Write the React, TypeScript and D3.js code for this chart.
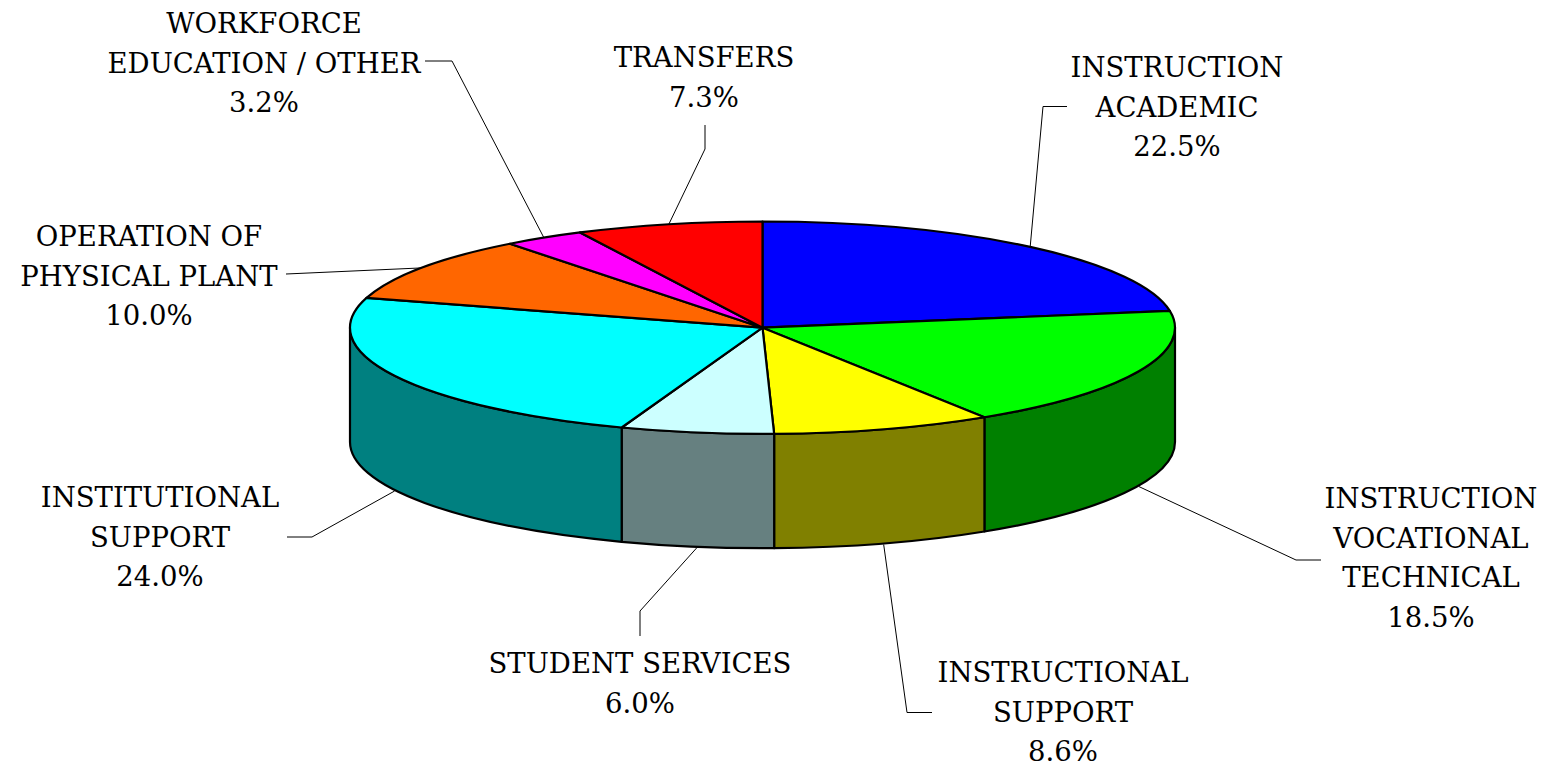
import React, { useEffect } from 'react';
import * as d3 from 'd3';

// slices, clockwise from 12 o'clock
const categories = [
  'INSTRUCTION ACADEMIC',
  'INSTRUCTION VOCATIONAL TECHNICAL',
  'INSTRUCTIONAL SUPPORT',
  'STUDENT SERVICES',
  'INSTITUTIONAL SUPPORT',
  'OPERATION OF PHYSICAL PLANT',
  'WORKFORCE EDUCATION / OTHER',
  'TRANSFERS',
];
const labelLines = [
  ['INSTRUCTION', 'ACADEMIC'],
  ['INSTRUCTION', 'VOCATIONAL', 'TECHNICAL'],
  ['INSTRUCTIONAL', 'SUPPORT'],
  ['STUDENT SERVICES'],
  ['INSTITUTIONAL', 'SUPPORT'],
  ['OPERATION OF', 'PHYSICAL PLANT'],
  ['WORKFORCE', 'EDUCATION / OTHER'],
  ['TRANSFERS'],
];
const shares = [22.5, 18.5, 8.6, 6.0, 24.0, 10.0, 3.2, 7.3];
const topColors = ['#0000ff', '#00ff00', '#ffff00', '#ccffff', '#00ffff', '#ff6600', '#ff00ff', '#ff0000'];
const sideColors = ['#000080', '#008000', '#808000', '#668080', '#008080', '#993300', '#800080', '#800000'];

// label placement: text centre x, first baseline y, leader start and elbow
const labelLayout = [
  { x: 1177, y: 77, start: [1067, 106.5], elbow: [1043, 106.5] },
  { x: 1431, y: 508, start: [1321, 560], elbow: [1296, 560] },
  { x: 1063, y: 682, start: [932, 712.5], elbow: [907, 712.5] },
  { x: 640, y: 673, start: [640, 636], elbow: [640, 611] },
  { x: 160, y: 507, start: [287, 537], elbow: [312, 537] },
  { x: 149, y: 246, start: [286, 274], elbow: null },
  { x: 264, y: 33, start: [425, 61], elbow: [452, 61] },
  { x: 704, y: 67, start: [705, 125], elbow: [705, 149] },
];

const W = 1548;
const H = 767;
const cx = 762.5;
const cy = 327.7;
const rx = 412.5;
const ry = 106.2;
const depth = 114.3;
const lineH = 39.7;
const fmt = d3.format('.1f');
const serif = '"DejaVu Serif", serif';

const pt = (a: number, dy = 0): [number, number] => [cx + rx * Math.sin(a), cy - ry * Math.cos(a) + dy];

export default function App() {
  useEffect(() => {
    document.body.style.margin = '0';
  }, []);

  const arcs = d3.pie<number>().sort(null).value(d => d)(shares);
  const topArc = d3.arc<d3.PieArcDatum<number>>().innerRadius(0).outerRadius(rx);

  const walls = arcs
    .map((a, i) => {
      const a0 = Math.max(a.startAngle, Math.PI / 2);
      const a1 = Math.min(a.endAngle, (3 * Math.PI) / 2);
      if (a0 >= a1) return null;
      const [x0, y0] = pt(a0);
      const [x1, y1] = pt(a1);
      const d = `M${x0},${y0}A${rx},${ry} 0 0 1 ${x1},${y1}L${x1},${y1 + depth}A${rx},${ry} 0 0 0 ${x0},${y0 + depth}Z`;
      return { d, fill: sideColors[i], key: categories[i] };
    })
    .filter(Boolean) as { d: string; fill: string; key: string }[];

  const line = d3.line();

  const leaders = arcs.map((a, i) => {
    const mid = (a.startAngle + a.endAngle) / 2;
    const front = Math.cos(mid) < 0;
    const anchor = pt(mid, front ? depth + 1 : 0);
    const L = labelLayout[i];
    const pts: [number, number][] = [L.start as [number, number]];
    if (L.elbow) pts.push(L.elbow as [number, number]);
    pts.push(anchor);
    return line(pts) as string;
  });

  return (
    <svg width={W} height={H} style={{ display: 'block', background: '#fff' }}>
      <g stroke="#000" strokeWidth={2.2} strokeLinejoin="round">
        {walls.map(w => (
          <path key={w.key} d={w.d} fill={w.fill} />
        ))}
      </g>
      <g transform={`translate(${cx},${cy}) scale(1,${ry / rx})`}>
        {arcs.map((a, i) => (
          <path
            key={categories[i]}
            d={topArc(a) as string}
            fill={topColors[i]}
            stroke="#000"
            strokeWidth={2.2}
            strokeLinejoin="round"
            vectorEffect="non-scaling-stroke"
          />
        ))}
      </g>
      <g fill="none" stroke="#000" strokeWidth={1}>
        {leaders.map((d, i) => (
          <path key={categories[i]} d={d} />
        ))}
      </g>
      <g style={{ fontFamily: serif, fontSize: '27.5px' }} textAnchor="middle" fill="#000">
        {labelLines.map((lines, i) => (
          <text key={categories[i]}>
            {[...lines, `${fmt(shares[i])}%`].map((t, j) => (
              <tspan key={j} x={labelLayout[i].x} y={labelLayout[i].y + j * lineH}>
                {t}
              </tspan>
            ))}
          </text>
        ))}
      </g>
    </svg>
  );
}
